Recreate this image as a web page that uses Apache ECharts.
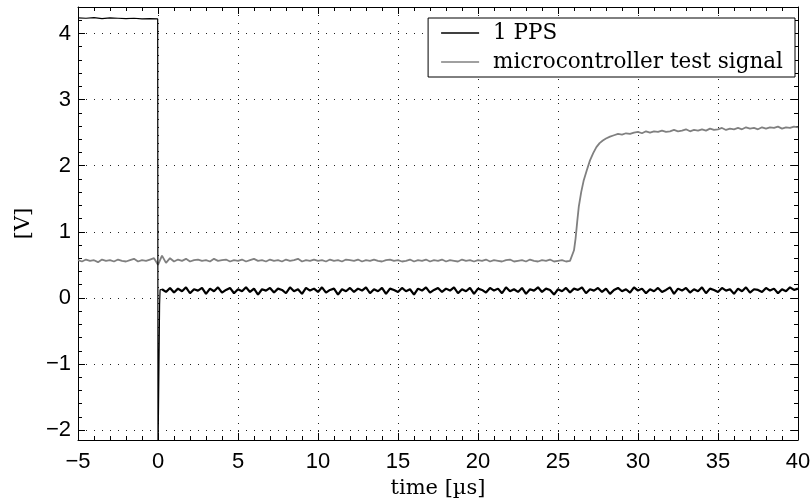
<!DOCTYPE html>
<html>
<head>
<meta charset="utf-8">
<script src="https://cdn.jsdelivr.net/npm/echarts@6/dist/echarts.min.js"></script>
<style>
html,body{margin:0;padding:0;background:#fff;}
#chart{width:810px;height:503px;}
</style>
</head>
<body>
<div id="chart"></div>
<script>
// ---- data ----
const seriesNames = ['1 PPS', 'microcontroller test signal'];

// 1 PPS signal, high level and falling edge: time [µs] / voltage [V]
const ppsEdgeT = [-5,-4.5,-4,-3.5,-3,-2.5,-2,-1.5,-1,-0.5,-0.02,0,0.08,0.1,0.13,0.25];
const ppsEdgeV = [4.235,4.23,4.24,4.225,4.235,4.23,4.225,4.23,4.22,4.225,4.22,-2.4,-2.4,-0.1,0.12,0.13];

// 1 PPS signal, low level (noisy): time [µs]
const ppsT = [0.25,0.5,0.75,1,1.25,1.5,1.75,2,2.25,2.5,
  2.75,3,3.25,3.5,3.75,4,4.25,4.5,4.75,5,
  5.25,5.5,5.75,6,6.25,6.5,6.75,7,7.25,7.5,
  7.75,8,8.25,8.5,8.75,9,9.25,9.5,9.75,10,
  10.25,10.5,10.75,11,11.25,11.5,11.75,12,12.25,12.5,
  12.75,13,13.25,13.5,13.75,14,14.25,14.5,14.75,15,
  15.25,15.5,15.75,16,16.25,16.5,16.75,17,17.25,17.5,
  17.75,18,18.25,18.5,18.75,19,19.25,19.5,19.75,20,
  20.25,20.5,20.75,21,21.25,21.5,21.75,22,22.25,22.5,
  22.75,23,23.25,23.5,23.75,24,24.25,24.5,24.75,25,
  25.25,25.5,25.75,26,26.25,26.5,26.75,27,27.25,27.5,
  27.75,28,28.25,28.5,28.75,29,29.25,29.5,29.75,30,
  30.25,30.5,30.75,31,31.25,31.5,31.75,32,32.25,32.5,
  32.75,33,33.25,33.5,33.75,34,34.25,34.5,34.75,35,
  35.25,35.5,35.75,36,36.25,36.5,36.75,37,37.25,37.5,
  37.75,38,38.25,38.5,38.75,39,39.25,39.5,39.75,40];
// 1 PPS signal, low level (noisy): voltage [V]
const ppsV = [0.13,0.09,0.15,0.08,0.14,0.10,0.16,0.07,0.13,0.11,
  0.15,0.06,0.14,0.10,0.16,0.08,0.12,0.15,0.07,0.13,
  0.10,0.16,0.09,0.14,0.05,0.13,0.11,0.15,0.08,0.14,
  0.12,0.07,0.16,0.10,0.13,0.06,0.15,0.11,0.14,0.09,
  0.16,0.08,0.12,0.14,0.05,0.13,0.10,0.15,0.09,0.14,
  0.11,0.16,0.07,0.13,0.10,0.15,0.06,0.14,0.12,0.09,
  0.15,0.10,0.13,0.05,0.14,0.11,0.16,0.08,0.12,0.15,
  0.09,0.14,0.11,0.16,0.07,0.13,0.10,0.15,0.06,0.14,
  0.12,0.08,0.15,0.11,0.14,0.07,0.16,0.10,0.13,0.09,
  0.15,0.06,0.13,0.11,0.16,0.09,0.14,0.12,0.05,0.13,
  0.10,0.15,0.08,0.14,0.12,0.16,0.07,0.13,0.11,0.15,
  0.09,0.14,0.06,0.12,0.15,0.10,0.13,0.08,0.16,0.11,
  0.14,0.07,0.13,0.10,0.15,0.09,0.12,0.16,0.06,0.14,
  0.11,0.15,0.08,0.13,0.10,0.16,0.07,0.14,0.12,0.09,
  0.15,0.11,0.13,0.06,0.14,0.10,0.16,0.08,0.13,0.12,
  0.09,0.15,0.11,0.14,0.07,0.13,0.10,0.16,0.12,0.14];

// microcontroller test signal: time [µs]
const mcuT = [-5,-4.75,-4.5,-4.25,-4,-3.75,-3.5,-3.25,-3,-2.75,
  -2.5,-2.25,-2,-1.75,-1.5,-1.25,-1,-0.75,-0.5,-0.25,
  0,0.25,0.5,0.75,1,1.25,1.5,1.75,2,2.25,
  2.5,2.75,3,3.25,3.5,3.75,4,4.25,4.5,4.75,
  5,5.25,5.5,5.75,6,6.25,6.5,6.75,7,7.25,
  7.5,7.75,8,8.25,8.5,8.75,9,9.25,9.5,9.75,
  10,10.25,10.5,10.75,11,11.25,11.5,11.75,12,12.25,
  12.5,12.75,13,13.25,13.5,13.75,14,14.25,14.5,14.75,
  15,15.25,15.5,15.75,16,16.25,16.5,16.75,17,17.25,
  17.5,17.75,18,18.25,18.5,18.75,19,19.25,19.5,19.75,
  20,20.25,20.5,20.75,21,21.25,21.5,21.75,22,22.25,
  22.5,22.75,23,23.25,23.5,23.75,24,24.25,24.5,24.75,
  25,25.25,25.5,25.75,
  25.85,26,26.1,26.2,26.3,26.45,26.6,26.8,27,27.2,27.4,27.6,27.8,28,28.25,
  28.5,28.75,29,29.25,29.5,29.75,30,30.25,30.5,30.75,
  31,31.25,31.5,31.75,32,32.25,32.5,32.75,33,33.25,
  33.5,33.75,34,34.25,34.5,34.75,35,35.25,35.5,35.75,
  36,36.25,36.5,36.75,37,37.25,37.5,37.75,38,38.25,
  38.5,38.75,39,39.25,39.5,39.75,40];
// microcontroller test signal: voltage [V]
const mcuV = [0.57,0.55,0.58,0.56,0.57,0.54,0.58,0.56,0.57,0.55,
  0.58,0.56,0.55,0.57,0.59,0.55,0.57,0.56,0.58,0.60,
  0.50,0.64,0.53,0.60,0.55,0.58,0.56,0.59,0.55,0.57,
  0.58,0.56,0.57,0.55,0.59,0.56,0.57,0.58,0.55,0.57,
  0.56,0.58,0.55,0.57,0.59,0.56,0.57,0.55,0.58,0.56,
  0.57,0.55,0.58,0.56,0.57,0.59,0.55,0.57,0.56,0.58,
  0.56,0.57,0.55,0.58,0.56,0.57,0.55,0.58,0.57,0.56,
  0.58,0.55,0.57,0.56,0.58,0.56,0.55,0.57,0.58,0.56,
  0.57,0.55,0.56,0.58,0.55,0.57,0.56,0.58,0.55,0.57,
  0.56,0.58,0.55,0.57,0.56,0.55,0.58,0.56,0.57,0.55,
  0.57,0.56,0.58,0.55,0.57,0.56,0.55,0.57,0.58,0.55,
  0.56,0.57,0.55,0.58,0.56,0.55,0.57,0.56,0.58,0.55,
  0.56,0.57,0.55,0.56,
  0.58,0.72,0.9,1.15,1.38,1.6,1.77,1.93,2.08,2.19,2.28,2.34,2.38,2.41,2.44,
  2.46,2.48,2.47,2.49,2.48,2.50,2.51,2.49,2.52,2.50,
  2.52,2.51,2.53,2.51,2.52,2.54,2.52,2.53,2.55,2.52,
  2.54,2.53,2.55,2.53,2.56,2.54,2.55,2.57,2.54,2.56,
  2.55,2.57,2.55,2.58,2.56,2.57,2.55,2.58,2.56,2.58,
  2.57,2.59,2.56,2.58,2.57,2.59,2.58];

// axis ticks
const xMin = -5, xMax = 40, xStep = 5;
const yMin = -2.15, yMax = 4.4;
const yMajorTicks = [-2,-1,0,1,2,3,4];
const yMinorTicks = [-2,-1.8,-1.6,-1.4,-1.2,-1,-0.8,-0.6,-0.4,-0.2,0,0.2,0.4,0.6,0.8,1,1.2,1.4,1.6,1.8,2,2.2,2.4,2.6,2.8,3,3.2,3.4,3.6,3.8,4,4.2];
const xAxisTitle = 'time [µs]';
const yAxisTitle = '[V]';

// ---- chart ----
const zip = (t, v) => t.map((x, i) => [x, v[i]]);
const minus = v => String(v).replace('-', '\u2212');
const tickFont = {fontFamily: '"Liberation Sans", Arial, sans-serif', fontSize: 22, color: '#000'};
const serifFont = '"DejaVu Serif", serif';
const axisLine = {show: true, onZero: false, lineStyle: {color: '#000', width: 1}};
const noLine = {show: false, onZero: false};
const gridDots = {show: true, lineStyle: {color: '#222', width: 1, type: [1, 7]}};

const chart = echarts.init(document.getElementById('chart'), null, {renderer: 'canvas'});
chart.setOption({
  animation: false,
  backgroundColor: '#fff',
  grid: {left: 78, right: 12, top: 7, bottom: 63, containLabel: false, outerBoundsMode: 'none'},
  legend: {
    data: seriesNames,
    orient: 'vertical',
    right: 15, top: 18,
    backgroundColor: '#fff',
    borderColor: '#000', borderWidth: 1, borderRadius: 0,
    padding: [4, 12, 4, 13],
    icon: 'rect',
    itemWidth: 38, itemHeight: 1.3, itemGap: 7,
    textStyle: {fontFamily: serifFont, fontSize: 21.5, color: '#000', lineHeight: 22, padding: [0, 0, 0, 9]}
  },
  xAxis: [
    {type: 'value', position: 'bottom', min: xMin, max: xMax, interval: xStep,
     name: xAxisTitle, nameLocation: 'middle', nameGap: 36,
     nameTextStyle: {fontFamily: serifFont, fontSize: 21, color: '#000'},
     axisLine: axisLine,
     axisTick: {show: true, inside: true, length: 7, lineStyle: {color: '#000'}},
     minorTick: {show: true, splitNumber: 5, length: 4, lineStyle: {color: '#000'}},
     axisLabel: Object.assign({margin: 11, formatter: minus}, tickFont),
     splitLine: gridDots},
    {type: 'value', position: 'top', min: xMin, max: xMax, interval: xStep,
     axisLine: axisLine,
     axisTick: {show: true, inside: true, length: 7, lineStyle: {color: '#000'}},
     minorTick: {show: true, splitNumber: 5, length: 4, lineStyle: {color: '#000'}},
     axisLabel: {show: false}, splitLine: {show: false}}
  ],
  yAxis: [
    {type: 'value', position: 'left', min: yMin, max: yMax,
     name: yAxisTitle, nameLocation: 'middle', nameGap: 44, nameRotate: 90,
     nameTextStyle: {fontFamily: serifFont, fontSize: 21, color: '#000'},
     axisLine: axisLine,
     axisTick: {show: true, inside: true, length: 7, customValues: yMajorTicks, lineStyle: {color: '#000'}},
     axisLabel: Object.assign({margin: 7, customValues: yMajorTicks, formatter: minus}, tickFont),
     splitLine: gridDots},
    {type: 'value', position: 'right', min: yMin, max: yMax,
     axisLine: axisLine,
     axisTick: {show: true, inside: true, length: 7, customValues: yMajorTicks, lineStyle: {color: '#000'}},
     axisLabel: {show: false}, splitLine: {show: false}},
    {type: 'value', position: 'left', offset: 0, min: yMin, max: yMax,
     axisLine: noLine,
     axisTick: {show: true, inside: true, length: 4, customValues: yMinorTicks, lineStyle: {color: '#000'}},
     axisLabel: {show: false}, splitLine: {show: false}},
    {type: 'value', position: 'right', offset: 0, min: yMin, max: yMax,
     axisLine: noLine,
     axisTick: {show: true, inside: true, length: 4, customValues: yMinorTicks, lineStyle: {color: '#000'}},
     axisLabel: {show: false}, splitLine: {show: false}}
  ],
  series: [
    {name: seriesNames[0], type: 'line', data: zip(ppsEdgeT, ppsEdgeV), symbol: 'none', clip: true,
     xAxisIndex: 0, yAxisIndex: 0, z: 3,
     lineStyle: {color: '#000', width: 1.2}, itemStyle: {color: '#000'}},
    {name: seriesNames[0], type: 'line', data: zip(ppsT, ppsV), symbol: 'none', clip: true,
     xAxisIndex: 0, yAxisIndex: 0, z: 3,
     lineStyle: {color: '#000', width: 2.2}, itemStyle: {color: '#000'}},
    {name: seriesNames[1], type: 'line', data: zip(mcuT, mcuV), symbol: 'none', clip: true,
     xAxisIndex: 0, yAxisIndex: 0, z: 2,
     lineStyle: {color: '#808080', width: 1.8}, itemStyle: {color: '#808080'}}
  ]
});
</script>
</body>
</html>
